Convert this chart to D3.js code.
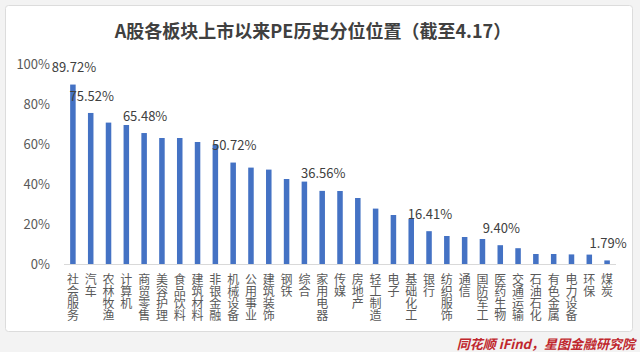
<!DOCTYPE html>
<html>
<head>
<meta charset="utf-8">
<script src="https://cdn.jsdelivr.net/npm/d3@7"></script>
<style>
body{margin:0;background:#f3f3f3;}
text{font-family:"Noto Sans CJK SC","Noto Sans",sans-serif;}
</style>
</head>
<body>
<div id="chart"></div>
<script>
// A股各板块 PE 历史分位 (截至4.17)

var sectors = ["社会服务","汽车","农林牧渔","计算机","商贸零售","美容护理","食品饮料","建筑材料","非银金融","机械设备","公用事业","建筑装饰","钢铁","综合","家用电器","传媒","房地产","轻工制造","电子","基础化工","银行","纺织服饰","通信","国防军工","医药生物","交通运输","石油石化","有色金属","电力设备","环保","煤炭"];
var pct = [89.72,75.52,70.7,69.5,65.48,63.0,63.0,61.0,59.7,50.72,48.2,47.2,42.5,41.2,36.56,36.5,33.0,27.7,24.5,22.5,16.41,14.0,13.5,12.5,9.40,7.9,5.0,5.0,4.8,4.7,1.79];
var labelled = ["社会服务","汽车","商贸零售","机械设备","家用电器","银行","医药生物","煤炭"];
var yTicks = [0,20,40,60,80,100];

var W = 640, H = 352;
var svg = d3.select("#chart").append("svg").attr("width", W).attr("height", H);
svg.append("rect").attr("width", W).attr("height", H).attr("fill", "#f3f3f3");
svg.append("rect").attr("x", 5.5).attr("y", 5.5).attr("width", 627).attr("height", 326).attr("rx", 3)
  .attr("fill", "white").attr("stroke", "#dcdcdc");

var x = d3.scaleBand().domain(sectors).range([64, 616]).padding(0);
var y = d3.scaleLinear().domain([0, 100]).range([264, 64]);
var barW = x.bandwidth() * 0.31;

svg.append("text").attr("x", 313).attr("y", 33).attr("text-anchor", "middle").attr("dominant-baseline", "middle")
  .style("font-size", "18px").style("font-weight", "bold").style("fill", "#404040")
  .text("A股各板块上市以来PE历史分位位置（截至4.17）");

// y tick labels (no gridlines in the original)
svg.selectAll(".ytick").data(yTicks).enter().append("text")
  .attr("x", 50).attr("y", function(d){return y(d);}).attr("dy", "0.4em")
  .attr("text-anchor", "end").style("font-size", "13px").style("fill", "#595959")
  .text(function(d){return d + "%";});

svg.append("line").attr("x1", 64).attr("x2", 616).attr("y1", 264.5).attr("y2", 264.5)
  .attr("stroke", "#d9d9d9");

svg.selectAll(".bar").data(sectors).enter().append("rect")
  .attr("x", function(d){return x(d) + x.bandwidth()/2 - barW/2;})
  .attr("y", function(d,i){return y(pct[i]);})
  .attr("width", barW)
  .attr("height", function(d,i){return y(0) - y(pct[i]);})
  .attr("fill", "#4472c4");

svg.selectAll(".val").data(sectors.filter(function(d){return labelled.indexOf(d) >= 0;})).enter().append("text")
  .attr("x", function(d){return x(d) + x.bandwidth()/2 + 1;})
  .attr("y", function(d){return y(pct[sectors.indexOf(d)]) - 17;})
  .attr("dy", "0.35em").attr("text-anchor", "middle")
  .style("font-size", "13px").style("fill", "#404040")
  .text(function(d){return pct[sectors.indexOf(d)].toFixed(2) + "%";});

// vertical category labels
svg.selectAll(".xl").data(sectors).enter().append("text")
  .attr("x", function(d){return x(d) + x.bandwidth()/2;})
  .attr("y", 273)
  .style("writing-mode", "vertical-rl").style("text-orientation", "upright")
  .style("font-size", "12px").style("fill", "#595959")
  .text(function(d){return d;});

svg.append("text").attr("x", 635).attr("y", 344).attr("dy", "0.35em").attr("text-anchor", "end")
  .style("font-size", "13px").style("font-style", "italic").style("font-weight", "bold").style("fill", "#c0272d")
  .text("同花顺 iFind，星图金融研究院");
</script>
</body>
</html>
